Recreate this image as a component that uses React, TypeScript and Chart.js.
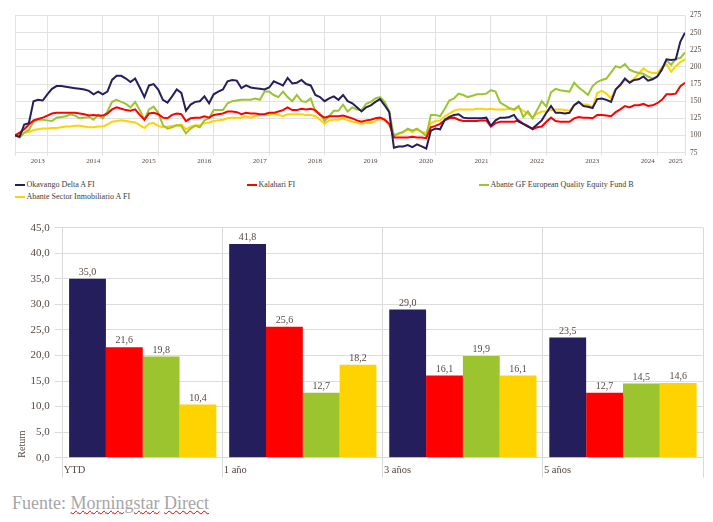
import React, { useEffect, useRef } from "react";
import { Chart, registerables } from "chart.js";

Chart.register(...registerables);

// ---------- Line chart data (monthly, May 2013 – Jun 2025, base 100) ----------
const START_YEAR = 2013;
const START_MONTH = 5; // May
const months: string[] = [];
for (let i = 0; i < 146; i++) {
  const m = START_MONTH - 1 + i;
  const y = START_YEAR + Math.floor(m / 12);
  const mm = (m % 12) + 1;
  months.push(`${y}-${mm < 10 ? "0" + mm : mm}`);
}

const okavangoLine = [
  100, 98, 116, 118, 150, 152, 151, 160, 168, 172, 172, 171, 170, 169, 168, 167, 165, 160, 164, 160,
  164, 181, 187, 187, 183, 178, 183, 170, 156, 173, 175, 167, 152, 148, 157, 167, 162, 136, 145, 149,
  150, 157, 147, 160, 164, 167, 179, 181, 180, 169, 173, 170, 169, 168, 167, 170, 179, 176, 173, 184,
  176, 177, 181, 175, 173, 159, 156, 150, 154, 157, 152, 159, 150, 147, 141, 135, 141, 144, 149, 153,
  144, 134, 82, 84, 84, 86, 83, 87, 84, 81, 107, 110, 109, 123, 127, 130, 131, 126, 125, 125,
  125, 125, 126, 114, 122, 126, 126, 127, 130, 120, 117, 113, 110, 116, 122, 133, 143, 133, 133, 132,
  133, 144, 149, 143, 142, 140, 153, 154, 152, 149, 167, 174, 183, 177, 181, 182, 186, 180, 182, 186,
  196, 211, 210, 211, 237, 250,
];
const kalahariLine = [
  100, 104, 109, 116, 122, 124, 126, 129, 132, 133, 133, 133, 133, 133, 132, 131, 129, 130, 129, 129,
  132, 138, 141, 139, 137, 136, 138, 130, 123, 132, 133, 131, 126, 125, 130, 132, 131, 121, 125, 126,
  126, 128, 126, 130, 131, 132, 135, 135, 134, 131, 133, 132, 132, 131, 131, 133, 133, 135, 137, 141,
  137, 137, 139, 138, 139, 137, 130, 126, 128, 128, 128, 129, 127, 125, 122, 120, 122, 123, 125, 126,
  123, 117, 97, 97, 97, 97, 98, 97, 97, 96, 112, 114, 117, 122, 125, 126, 123, 121, 121, 121,
  121, 122, 122, 113, 118, 120, 120, 120, 120, 122, 117, 114, 109, 112, 113, 120, 126, 121, 120, 120,
  120, 125, 127, 126, 126, 125, 130, 130, 129, 128, 134, 138, 143, 141, 144, 144, 146, 143, 144, 147,
  152, 160, 160, 161, 172, 177,
];
const abanteGFLine = [
  100, 97, 104, 108, 120, 123, 123, 122, 121, 126, 127, 128, 131, 129, 125, 126, 127, 123, 130, 125,
  135, 149, 152, 149, 146, 141, 149, 137, 123, 138, 142, 133, 115, 110, 112, 115, 114, 103, 110, 114,
  112, 122, 125, 137, 137, 137, 147, 150, 151, 152, 152, 152, 154, 152, 164, 164, 159, 156, 164, 156,
  150, 159, 150, 149, 154, 135, 132, 121, 128, 136, 136, 145, 135, 141, 138, 137, 146, 149, 154, 156,
  149, 135, 99, 103, 105, 110, 107, 110, 105, 99, 130, 130, 128, 139, 151, 154, 161, 159, 156, 158,
  160, 160, 161, 166, 164, 148, 144, 140, 138, 143, 127, 135, 125, 137, 150, 142, 163, 168, 166, 165,
  164, 177, 170, 165, 159, 172, 178, 181, 183, 192, 201, 199, 204, 196, 193, 191, 190, 186, 183, 186,
  198, 210, 203, 212, 213, 221,
];
const inmobiliarioLine = [
  100, 102, 104, 105, 108, 109, 110, 110, 111, 111, 112, 113, 113, 114, 114, 113, 112, 112, 113, 113,
  116, 120, 121, 122, 121, 120, 119, 115, 111, 117, 118, 114, 112, 113, 114, 115, 116, 109, 113, 115,
  115, 118, 119, 121, 122, 123, 125, 126, 126, 126, 128, 126, 128, 130, 130, 130, 132, 130, 128, 131,
  131, 131, 131, 130, 130, 128, 123, 117, 122, 123, 123, 125, 122, 120, 119, 117, 118, 118, 121, 125,
  122, 115, 101, 102, 105, 109, 105, 109, 105, 104, 118, 121, 122, 128, 132, 136, 138, 138, 138, 138,
  139, 139, 138, 139, 138, 138, 138, 139, 137, 141, 136, 132, 126, 132, 135, 135, 137, 138, 138, 137,
  136, 144, 148, 145, 145, 141, 162, 165, 161, 154, 168, 173, 181, 178, 183, 190, 198, 193, 191, 191,
  199, 204, 193, 201, 207, 211,
];

// ---------- Bar chart data ----------
const periods = ["YTD", "1 año", "3 años", "5 años"];
const okavangoRet = [35.0, 41.8, 29.0, 23.5];
const kalahariRet = [21.6, 25.6, 16.1, 12.7];
const abanteGFRet = [19.8, 12.7, 19.9, 14.5];
const inmobiliarioRet = [10.4, 18.2, 16.1, 14.6];

const seriesNames = [
  "Okavango Delta A FI",
  "Kalahari FI",
  "Abante GF European Quality Equity Fund B",
  "Abante Sector Inmobiliario A FI",
];
const NAVY = "#251E5C";
const RED = "#FF0000";
const GREEN = "#9BC42F";
const YELLOW = "#FFD300";
const colors = [NAVY, RED, GREEN, YELLOW];

const FONT = "'Liberation Serif', 'Times New Roman', serif";
const TICK_COLOR = "#554842";
const GRID = "#e2e2e2";

// tick positions for the line chart: start, every December, last point
const yearTickIdx: number[] = [0];
months.forEach((m, i) => {
  if (m.endsWith("-12")) yearTickIdx.push(i);
});
yearTickIdx.push(months.length - 1);
const yearTickLabel = (v: number) => {
  if (v === 0) return "";
  return months[v] ? months[v].slice(0, 4) : "";
};

const fmt = (v: number) => v.toFixed(1).replace(".", ",");

const valueLabels = {
  id: "valueLabels",
  afterDatasetsDraw(chart: any) {
    const ctx = chart.ctx;
    ctx.save();
    ctx.font = `10px ${FONT}`;
    ctx.fillStyle = TICK_COLOR;
    ctx.textAlign = "center";
    ctx.textBaseline = "bottom";
    chart.data.datasets.forEach((ds: any, di: number) => {
      const meta = chart.getDatasetMeta(di);
      meta.data.forEach((bar: any, i: number) => {
        ctx.fillText(fmt(ds.data[i]), bar.x, bar.y - 1.5);
      });
    });
    ctx.restore();
  },
};

export default function App() {
  const lineRef = useRef<HTMLCanvasElement>(null);
  const barRef = useRef<HTMLCanvasElement>(null);

  useEffect(() => {
    const lineSeries = [okavangoLine, kalahariLine, abanteGFLine, inmobiliarioLine];
    const lineChart = new Chart(lineRef.current!, {
      type: "line",
      data: {
        datasets: lineSeries.map((s, k) => ({
          label: seriesNames[k],
          data: s.map((v, i) => ({ x: i, y: v })),
          borderColor: colors[k],
          backgroundColor: colors[k],
          borderWidth: 2,
          pointRadius: 0,
          tension: 0,
        })),
      },
      options: {
        animation: false,
        responsive: true,
        maintainAspectRatio: false,
        layout: { padding: { left: 15, right: 0, top: 15.5, bottom: 0 } },
        plugins: { legend: { display: false }, tooltip: { enabled: false } },
        scales: {
          x: {
            type: "linear",
            min: 0,
            max: months.length - 1,
            afterBuildTicks: (s: any) => {
              s.ticks = yearTickIdx.map((v) => ({ value: v }));
            },
            afterFit: (s: any) => {
              s.height = 17.4;
            },
            grid: { color: GRID, lineWidth: 1, tickLength: 3, drawTicks: true },
            border: { display: false },
            ticks: {
              autoSkip: false,
              maxRotation: 0,
              align: "end",
              labelOffset: -2.5,
              padding: 1,
              color: TICK_COLOR,
              font: { family: FONT, size: 7 },
              callback: (v: any) => yearTickLabel(Number(v)),
            },
          },
          y: {
            position: "right",
            min: 75,
            max: 275,
            afterFit: (s: any) => {
              s.width = 28;
            },
            grid: { color: GRID, lineWidth: 1, drawTicks: false },
            border: { display: false },
            ticks: {
              stepSize: 25,
              padding: 5,
              color: TICK_COLOR,
              font: { family: FONT, size: 7.5 },
            },
          },
        },
      },
    });

    const barSeries = [okavangoRet, kalahariRet, abanteGFRet, inmobiliarioRet];
    const barChart = new Chart(barRef.current!, {
      type: "bar",
      data: {
        labels: periods,
        datasets: barSeries.map((s, k) => ({
          label: seriesNames[k],
          data: s,
          backgroundColor: colors[k],
          borderWidth: 0,
          categoryPercentage: 0.92,
          barPercentage: 1,
        })),
      },
      options: {
        animation: false,
        responsive: true,
        maintainAspectRatio: false,
        layout: { padding: { left: 0, right: 10, top: 12.7, bottom: 0 } },
        plugins: { legend: { display: false }, tooltip: { enabled: false } },
        scales: {
          x: {
            afterFit: (s: any) => {
              s.height = 27.3;
            },
            grid: {
              offset: true,
              color: (c: any) => (c.index >= periods.length ? "rgba(0,0,0,0)" : "#d9d9d9"),
              lineWidth: 1,
              tickLength: 20,
            },
            border: { display: false },
            ticks: {
              align: "start",
              labelOffset: -79,
              padding: -14,
              maxRotation: 0,
              color: TICK_COLOR,
              font: { family: FONT, size: 10.5 },
            },
          },
          y: {
            min: 0,
            max: 45,
            afterFit: (s: any) => {
              s.width = 62.7;
            },
            grid: { color: "#dcdcdc", lineWidth: 1, tickLength: 8 },
            border: { display: false },
            title: {
              display: true,
              text: "Return",
              align: "start",
              color: TICK_COLOR,
              font: { family: FONT, size: 10 },
              padding: { top: 16, bottom: 0 },
            },
            ticks: {
              stepSize: 5,
              padding: 5,
              color: TICK_COLOR,
              font: { family: FONT, size: 11 },
              callback: (v: any) => fmt(Number(v)),
            },
          },
        },
      },
      plugins: [valueLabels],
    });

    return () => {
      lineChart.destroy();
      barChart.destroy();
    };
  }, []);

  const legendItem = (k: number) => (
    <div key={k} style={{ display: "flex", alignItems: "center", whiteSpace: "nowrap" }}>
      <span
        style={{
          display: "inline-block",
          width: 10.5,
          height: 2,
          background: colors[k],
          marginRight: 1.5,
        }}
      />
      <span>{seriesNames[k]}</span>
    </div>
  );

  return (
    <div
      style={{
        position: "absolute",
        left: 0,
        top: 0,
        width: 713,
        height: 522,
        background: "#ffffff",
        overflow: "hidden",
        fontFamily: FONT,
      }}
    >
      <div style={{ position: "absolute", left: 0, top: 0, width: 713, height: 170 }}>
        <canvas ref={lineRef} />
      </div>
      <div
        style={{
          position: "absolute",
          left: 14.5,
          top: 180,
          width: 690,
          display: "grid",
          gridTemplateColumns: "232px 232px 226px",
          rowGap: 2,
          fontSize: 8,
          lineHeight: "10px",
          color: "#3c3c3c",
        }}
      >
        {legendItem(0)}
        {legendItem(1)}
        {legendItem(2)}
        {legendItem(3)}
      </div>
      <div style={{ position: "absolute", left: 0, top: 215, width: 713, height: 270 }}>
        <canvas ref={barRef} />
      </div>
      <div
        style={{
          position: "absolute",
          left: 12,
          top: 494,
          fontSize: 18,
          lineHeight: "18px",
          color: "#a6a6a6",
          whiteSpace: "nowrap",
        }}
      >
        Fuente:{" "}
        <span style={{ textDecoration: "underline wavy #e00000", textDecorationThickness: 1 }}>
          Morningstar
        </span>{" "}
        <span style={{ textDecoration: "underline wavy #e00000", textDecorationThickness: 1 }}>
          Direct
        </span>
      </div>
    </div>
  );
}
